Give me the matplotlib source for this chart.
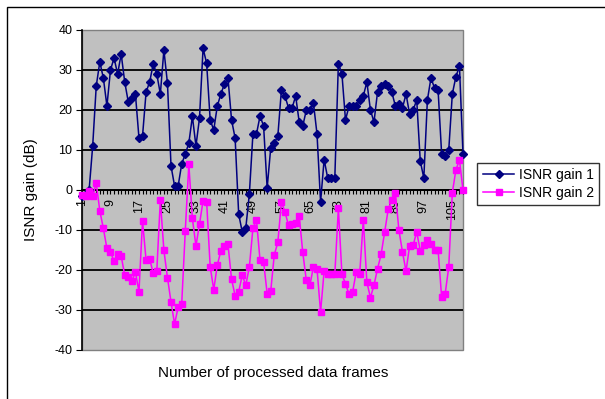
import matplotlib
matplotlib.use("Agg")
import matplotlib.pyplot as plt
import numpy as np
from matplotlib.patches import Rectangle

plt.rcParams['font.family'] = ['Liberation Sans', 'DejaVu Sans']

# ISNR gain per processed frame (dB)
gain1 = [-1.5, -1, 0, 11, 26, 32, 28, 21, 30, 33,
         29, 34, 27, 22, 23, 24, 13, 13.5, 24.5, 27,
         31.5, 29, 24, 35, 26.7, 6, 1, 1, 6.5, 9,
         11.7, 18.4, 11, 18, 35.4, 31.7, 17.5, 15, 21, 24,
         26.5, 28, 17.5, 13, -6, -10.5, -9.5, -1, 14, 14,
         18.5, 16, 0.5, 10.5, 11.7, 13.5, 25, 23.5, 20.5, 20.5,
         23.5, 17, 16, 20, 20, 21.7, 14, -3, 7.6, 3,
         3, 3, 31.6, 29, 17.5, 21, 21, 21, 22.5, 23.5,
         27, 20, 17, 24.5, 26, 26.5, 26, 24.5, 21, 21.5,
         20.5, 24, 19, 20, 22.5, 7.2, 3, 22.5, 28, 25.5,
         25, 9, 8.5, 10, 24, 28.3, 31, 9]

gain2 = [-1.3, -1.5, -0.3, -1.5, 1.7, -5.2, -9.6, -14.6, -15.6, -17.7,
         -15.9, -16.5, -21.3, -21.8, -22.8, -20.5, -25.4, -7.7, -17.6, -17.2,
         -20.8, -20.3, -2.5, -15.1, -21.9, -28, -33.5, -29.3, -28.5, -10.3,
         6.4, -7.1, -14, -8.5, -2.7, -2.9, -19.2, -24.9, -18.8, -15.2,
         -14.1, -13.6, -22.3, -26.4, -25.5, -21.3, -23.8, -19.2, -9.6, -7.5,
         -17.6, -18, -25.9, -25.3, -16.2, -13.1, -3, -5.5, -8.8, -8.5,
         -8.2, -6.5, -15.6, -22.6, -23.8, -19.2, -19.7, -30.5, -20.3, -20.9,
         -20.9, -21.1, -4.6, -21.1, -23.4, -26.1, -25.5, -20.5, -20.9, -7.5,
         -23, -26.9, -23.8, -19.7, -16.1, -10.5, -4.8, -2.5, -0.7, -10,
         -15.5, -20.3, -14, -13.8, -10.5, -15.2, -13.8, -12.6, -13.4, -15.1,
         -14.9, -26.8, -25.9, -19.2, -0.7, 5, 7.5, 0]

frames = np.arange(1, len(gain1) + 1)
frame_labels = np.arange(1, 106, 8)
y_ticks = np.arange(-40, 41, 10)

W, H = 605, 399
fig = plt.figure(figsize=(W / 100, H / 100), dpi=100)
ax = fig.add_axes([82 / W, 1 - 350 / H, (463 - 82) / W, 320 / H])

ax.set_facecolor('#C0C0C0')
ax.patch.set_edgecolor('#808080')
ax.patch.set_linewidth(1)
ax.set_xlim(1, len(frames))
ax.set_ylim(-40, 40)

# horizontal gridlines inside the plot area
ax.hlines(y_ticks[1:-1], 1, len(frames), colors='black', lw=1.3, zorder=1)

ax.plot(frames, gain1, color='#000080', marker='D', ms=4.5, lw=1.1,
        label='ISNR gain 1', clip_on=False, zorder=3)
ax.plot(frames, gain2, color='#FF00FF', marker='s', ms=5, lw=1.1,
        label='ISNR gain 2', clip_on=False, zorder=3)

# category axis crosses at zero
for s in ['top', 'right']:
    ax.spines[s].set_visible(False)
ax.spines['bottom'].set_position(('data', 0))
ax.spines['bottom'].set_linewidth(1.3)
ax.spines['left'].set_linewidth(1.2)
ax.spines['bottom'].set_zorder(2)

ax.set_xticks(frame_labels)
ax.set_xticklabels([str(v) for v in frame_labels], rotation=90, fontsize=9)
ax.set_xticks(frames, minor=True)
ax.tick_params(axis='x', which='both', direction='out', length=3, width=0.8, pad=3.5)
ax.set_yticks(y_ticks)
ax.set_yticklabels([str(v) for v in y_ticks], fontsize=9)
ax.tick_params(axis='y', direction='out', length=4, width=0.8, pad=3)

fig.text(273 / W, 1 - 373 / H, 'Number of processed data frames',
         ha='center', va='center', fontsize=11)
fig.text(31 / W, 1 - 190 / H, 'ISNR gain (dB)', rotation=90,
         ha='center', va='center', fontsize=11)

leg = fig.legend(loc='center left', bbox_to_anchor=(477 / W, 1 - 184 / H),
                 fontsize=10, frameon=True, fancybox=False, borderaxespad=0,
                 handlelength=2.3, handletextpad=0.3, borderpad=0.4,
                 labelspacing=0.25)
leg.get_frame().set_edgecolor('black')
leg.get_frame().set_linewidth(1)

# chart area border
fig.add_artist(Rectangle((7 / W, -0.1), 1.2, 1.1 - 7 / H, transform=fig.transFigure,
                         fill=False, ec='black', lw=1))

fig.savefig('out.png', dpi=100)
